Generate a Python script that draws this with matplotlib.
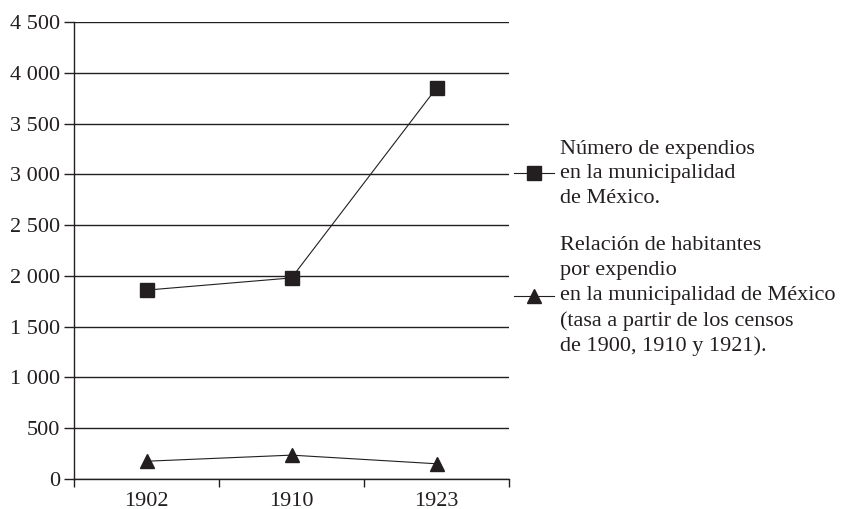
import matplotlib
matplotlib.use("Agg")
import matplotlib.pyplot as plt
from matplotlib.ticker import FixedLocator, FuncFormatter

plt.rcParams['font.family'] = ['Liberation Serif', 'DejaVu Serif']

years = ["1902", "1910", "1923"]
expendios = [1860, 1980, 3850]
habitantes = [175, 235, 150]
y_ticks = [0, 500, 1000, 1500, 2000, 2500, 3000, 3500, 4000, 4500]
label_exp = "Número de expendios\nen la municipalidad\nde México."
label_hab = ("Relación de habitantes\npor expendio\nen la municipalidad de México\n"
             "(tasa a partir de los censos\nde 1900, 1910 y 1921).")

ink = "#231f20"
fig = plt.figure(figsize=(8.41, 5.09), dpi=100)
ax = fig.add_axes([74/841, 1-479/509, (509-74)/841, (479-22)/509])

x = list(range(len(years)))
ax.plot(x, expendios, color=ink, lw=0.8, marker='s', ms=10, mfc=ink, mec=ink, label=label_exp, zorder=3)
ax.plot(x, habitantes, color=ink, lw=0.8, marker='^', ms=10, mfc=ink, mec=ink, label=label_hab, zorder=3)

ax.set_xlim(-0.5, len(years) - 0.5)
ax.set_ylim(0, 4500)
ax.yaxis.set_major_locator(FixedLocator(y_ticks))
ax.yaxis.set_major_formatter(FuncFormatter(lambda v, p: f"{int(v):,}".replace(",", " ")))
ax.grid(axis='y', color=ink, lw=1.0)
ax.set_axisbelow(True)

ax.set_xticks([i - 0.5 for i in range(len(years) + 1)])
ax.set_xticklabels([])
ax.set_xticks(x, minor=True)
ax.set_xticklabels(years, minor=True)
ax.tick_params(axis='x', which='minor', length=0, labelsize=16, pad=9, colors=ink)
ax.tick_params(axis='x', which='major', length=6, width=1, direction='out', colors=ink)
ax.tick_params(axis='y', length=7, width=1, direction='out', labelsize=16, pad=3, colors=ink)

for s in ['top', 'right']:
    ax.spines[s].set_visible(False)
for s in ['left', 'bottom']:
    ax.spines[s].set_color(ink)
    ax.spines[s].set_linewidth(1.0)

leg = ax.legend(loc='center left', bbox_to_anchor=(514/841, 1-248/509), bbox_transform=fig.transFigure,
                frameon=False, fontsize=16, handlelength=1.8, handletextpad=0.25,
                labelspacing=1.27, borderaxespad=0, borderpad=0, labelcolor=ink)
for t in leg.get_texts():
    t.set_linespacing(1.41)

fig.savefig("out.png", dpi=100)
